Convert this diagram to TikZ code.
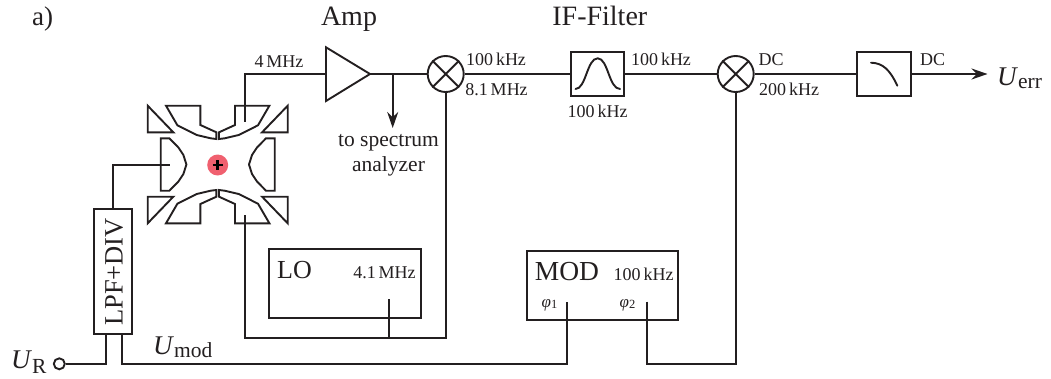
\documentclass[tikz,border=0pt]{standalone}
\usepackage{fontspec}
\setmainfont{Liberation Serif}
\usetikzlibrary{arrows.meta}
\definecolor{ink}{HTML}{231F20}
\definecolor{ionred}{HTML}{F0606F}
\newcommand{\fsz}[1]{\fontsize{#1}{#1}\selectfont}
\newcommand{\symb}[3]{\fsz{27}\textit{#1}\raisebox{#3}{\fsz{21.5}#2}}
\tikzset{
  wire/.style={ink,line width=1.9pt,line join=miter},
  blockbox/.style={draw=ink,line width=1.9pt,rectangle,inner sep=0pt,fill=none},
  mixer/.style={draw=ink,line width=1.9pt,circle,minimum size=36pt,inner sep=0pt},
  small/.style={text=ink,anchor=base,inner sep=0pt,font=\fsz{18}},
  big/.style={text=ink,anchor=base,inner sep=0pt,font=\fsz{28}},
  elec/.style={draw=ink,line width=1.9pt,line join=miter,fill=none},
  arrowtip/.style={-{Stealth[length=16pt,width=11pt]}},
}
\begin{document}
\begin{tikzpicture}[x=1pt,y=-1pt]
\useasboundingbox (0,0) rectangle (1051,378);
% paul trap
\begin{scope}[shift={(217.7,164.5)}]
  \foreach \sx/\sy in {1/1,-1/1,1/-1,-1/-1}{
    \begin{scope}[xscale=\sx,yscale=\sy]
      \draw[elec] (-70,-58.8) -- (-70,-32.2) -- (-44.4,-32.2) -- cycle;
      \draw[elec] (-51.7,-58.8) -- (-17.3,-58.8) -- (-17.3,-39.5) -- (-1.3,-32.2) -- (-1.3,-25.5)
        -- (-7,-26.2) -- (-21,-29.5) -- (-40.3,-39.2) -- cycle;
    \end{scope}
  }
  \foreach \sx in {1,-1}{
    \begin{scope}[xscale=\sx]
      \draw[elec] (-57,-26.2) -- (-48.3,-26.2) -- (-39.3,-17) -- (-34.3,-9.5) -- (-31.3,0)
        -- (-34.3,9.5) -- (-39.3,17) -- (-48.3,26.2) -- (-57,26.2) -- cycle;
    \end{scope}
  }
  \node[circle,fill=ionred,minimum size=21pt,inner sep=0pt] (ion) at (0,0.5) {};
  \draw[black,line width=2.6pt] (-5,0.5) -- (5,0.5) (0,-4.5) -- (0,5.5);
\end{scope}
% ports
\coordinate (trapT) at (245,121.7);
\coordinate (trapB) at (245,215);
\coordinate (trapL) at (170,165);
% blocks
\coordinate (ampin) at (326,74);
\coordinate (amptip) at (370,74);
\draw[wire,line join=miter] (326,47.3) -- (amptip) -- (326,101) -- cycle;
\node[mixer] (mxa) at (445.7,74) {};
\node[mixer] (mxb) at (735.7,74) {};
\foreach \m in {mxa,mxb}{
  \draw[wire] (\m.45) -- (\m.225) (\m.135) -- (\m.315);
}
\node[blockbox,minimum width=53.4pt,minimum height=43.4pt] (bpf) at (597.4,74) {};
\node[blockbox,minimum width=53.6pt,minimum height=43.6pt] (lpf) at (884.2,74) {};
\node[blockbox,minimum width=38pt,minimum height=125.3pt] (div) at (113.3,271.6) {};
\node[blockbox,minimum width=151.4pt,minimum height=69pt] (lo) at (345,283.2) {};
\node[blockbox,minimum width=150.7pt,minimum height=69.3pt] (mod) at (602.3,285.3) {};
% filter curves
\draw[wire,line cap=round] (575.5,89) .. controls (586,89) and (587,58.3) .. (597.7,58.3)
   .. controls (608,58.3) and (609,89) .. (620,89);
\draw[wire,line cap=round] (871,62.7) .. controls (883,63) and (890,70) .. (897.3,85.7);
% wiring
\coordinate (tap) at (392.7,74);
\coordinate (taptip) at (392.7,128);
\coordinate (out) at (987.5,74);
\draw[wire] (trapT) |- (ampin);
\draw[wire] (amptip) -- (mxa.west);
\draw[wire,arrowtip] (tap) -- (taptip);
\draw[wire] (mxa.east) -- (bpf.west);
\draw[wire] (bpf.east) -- (mxb.west);
\draw[wire] (mxb.east) -- (lpf.west);
\draw[wire,arrowtip] (lpf.east) -- (out);
\coordinate (divtop) at (div.north);
\draw[wire] (divtop) |- (trapL);
\node[draw=ink,line width=1.9pt,circle,minimum size=11pt,inner sep=0pt] (ur) at (59.3,363.8) {};
\coordinate (divl) at (106,334.3);
\coordinate (divr) at (121.7,334.3);
\coordinate (phia) at (567,301.7);
\coordinate (phib) at (646.7,301.7);
\coordinate (lop) at (389,299);
\coordinate (lojoin) at (389,337.7);
\draw[wire] (ur.east) -| (divl);
\draw[wire] (divr) |- (505,363.8) -| (phia);
\draw[wire] (phib) |- (700,364) -| (mxb.south);
\draw[wire] (trapB) |- (lojoin) -| (mxa.south);
\draw[wire] (lop) -- (lojoin);
% labels
\node[big,font=\fsz{27}] (la) at (42.7,25) {a)};
\node[big] (lamp) at (349,25) {Amp};
\node[big] (lif) at (599.8,25) {IF-Filter};
\node[small] (l4) at (279,67) {4\,MHz};
\node[small] (l100a) at (496,65) {100\,kHz};
\node[small] (l81) at (496.5,95.7) {8.1\,MHz};
\node[small] (l100b) at (597.7,117.7) {100\,kHz};
\node[small] (l100c) at (661,65) {100\,kHz};
\node[small] (ldca) at (771,65) {DC};
\node[small] (l200) at (789,95.7) {200\,kHz};
\node[small] (ldcb) at (932.7,65) {DC};
\node[small,font=\fsz{21.5}] (lts) at (388.5,146) {to spectrum};
\node[small,font=\fsz{21.5}] (lan) at (388.5,171) {analyzer};
\node[small] (l41) at (384.5,278) {4.1\,MHz};
\node[big,font=\fsz{26}] (llo) at (294.5,278) {LO};
\node[big,font=\fsz{27.5}] (lmod) at (567,280) {MOD};
\node[small] (l100d) at (643.5,280) {100\,kHz};
\node[small,font=\fsz{17}] (lp1) at (549.5,307) {\textit{φ}\raisebox{-1.5pt}{\fsz{12.5}1}};
\node[small,font=\fsz{17}] (lp2) at (627.5,307) {\textit{φ}\raisebox{-1.5pt}{\fsz{12.5}2}};
\node[big,rotate=90,font=\fsz{26.5}] (ldiv) at (122.5,272) {LPF+DIV};
\node[small,font=\fsz{27},anchor=base west] (uerr) at (997,85) {\symb{U}{err}{-3pt}};
\node[small,font=\fsz{27},anchor=base west] (umod) at (153,354) {\symb{U}{mod}{-3pt}};
\node[small,font=\fsz{27},anchor=base west] (urt) at (11,368) {\symb{U}{R}{-5pt}};
\end{tikzpicture}
\end{document}
